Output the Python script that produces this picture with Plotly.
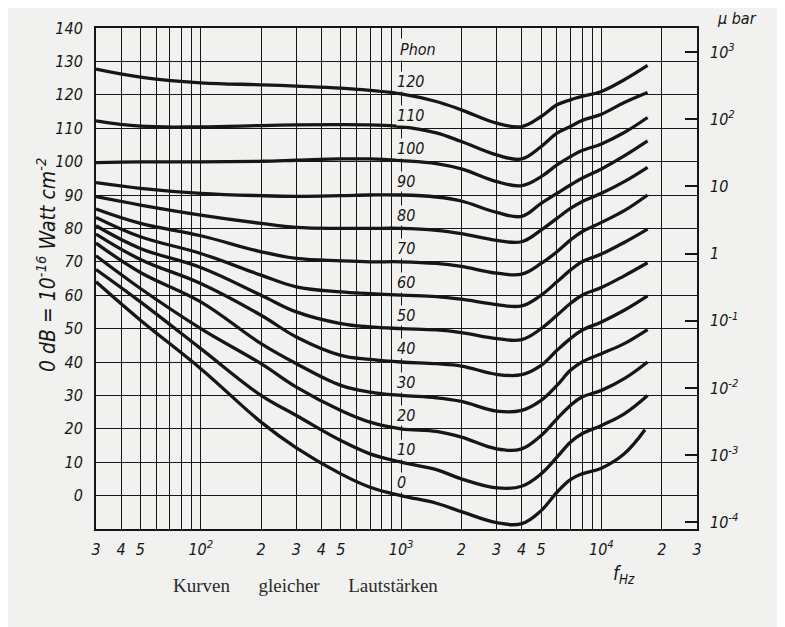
import math
import plotly.graph_objects as go

# ---------------- data ----------------
FREQ = [30, 50, 100, 200, 300, 500, 700, 1000, 1500, 2000, 3000, 4000,
        5000, 6000, 7000, 8000, 10000, 13000]

PHON = [0, 10, 20, 30, 40, 50, 60, 70, 80, 90, 100, 110, 120]
END_FREQ = [16500, 17000, 17000, 17000, 17000, 17000, 17000, 17000, 17000,
            17000, 17000, 17000, 17000]

phon_0 = [64, 52.5, 38, 22, 14.3, 6.5, 2.5, 0, -2.3, -4.8, -8.1, -8.4, -4.5, 1, 4.8, 6.5, 8.2, 12.5, 19.7]
phon_10 = [67.7, 58, 44, 30, 24, 16.5, 12.5, 10, 7.8, 5, 2.3, 2.8, 6.5, 11.5, 16, 18.5, 21, 24.5, 30]
phon_20 = [71.8, 62, 50, 39.5, 32.5, 25.5, 22, 20, 19.2, 17.5, 14, 14, 18, 23, 27, 29.5, 31.5, 35, 40]
phon_30 = [75.6, 66.8, 58, 45.5, 39.5, 33, 31, 30, 29.3, 28.2, 25.3, 25.5, 28.5, 33, 37.5, 40, 42.5, 45.5, 49.7]
phon_40 = [78.3, 70.7, 63.5, 54, 47.5, 42, 40.8, 40, 39.5, 38.8, 36.3, 36.2, 39, 43.5, 47, 49.5, 52, 55.5, 59.8]
phon_50 = [80.8, 74, 68.3, 60, 55, 51.5, 50.5, 50, 49.6, 48.8, 47, 46.7, 50, 54, 57.5, 60, 62.3, 65.8, 69.7]
phon_60 = [83.3, 77.5, 72.5, 66, 62.5, 61, 60.5, 60, 59.6, 58.8, 57.2, 56.8, 60, 64, 67.5, 70, 72.3, 75.8, 79.8]
phon_70 = [85.8, 81.5, 77.8, 73, 71, 70.3, 70, 70, 69.5, 68.6, 66.6, 66.3, 69.5, 73, 76.5, 79, 81.8, 85.3, 90]
phon_80 = [89.5, 87, 84, 81.5, 80.3, 80, 80, 80, 79.4, 78.4, 76.4, 76, 79.5, 83, 86, 88, 90.5, 94, 98.3]
phon_90 = [93.7, 92, 90.5, 89.8, 89.6, 89.8, 90, 90, 89.4, 88.2, 84.8, 83.6, 87.5, 90.5, 93, 95, 97.8, 101.7, 106.2]
phon_100 = [99.7, 99.9, 99.9, 100.1, 100.4, 100.8, 100.8, 100.3, 99.4, 97.8, 94, 92.8, 95.5, 99, 101.5, 103.3, 105.3, 108.7, 113.2]
phon_110 = [112.2, 110.6, 110.4, 110.8, 111, 111.1, 111, 110.5, 108.6, 106, 102, 100.8, 104.5, 108.5, 110.5, 112.3, 114.2, 117.7, 120.7]
phon_120 = [127.7, 125.3, 123.6, 123, 122.6, 122, 121.3, 120.3, 118, 115.5, 111.5, 110.5, 113.5, 117, 118.5, 119.5, 121, 124.5, 128.8]

CURVES = [phon_0, phon_10, phon_20, phon_30, phon_40, phon_50, phon_60,
          phon_70, phon_80, phon_90, phon_100, phon_110, phon_120]

# x grid / tick labels
GRID_F = [30, 40, 50, 60, 70, 80, 90, 100, 200, 300, 400, 500, 600, 700, 800, 900,
          1000, 2000, 3000, 4000, 5000, 6000, 7000, 8000, 9000, 10000, 20000, 30000]
GRID_LABELS = ["3", "4", "5", "", "", "", "", "10<sup>2</sup>", "2", "3", "4", "5", "", "", "", "",
               "10<sup>3</sup>", "2", "3", "4", "5", "", "", "", "", "10<sup>4</sup>", "2", "3"]

DB_TICKS = list(range(-10, 150, 10))
DB_LABELS = [""] + [str(v) for v in range(0, 150, 10)]

UBAR_TICKS = [1e-4, 1e-3, 1e-2, 1e-1, 1, 10, 100, 1000]
UBAR_LABELS = ["10<sup>-4</sup>", "10<sup>-3</sup>", "10<sup>-2</sup>", "10<sup>-1</sup>",
               "1", "10", "10<sup>2</sup>", "10<sup>3</sup>"]

# ---------------- styling ----------------
BG = "#f1f1ef"
INK = "#161616"
FONT = "DejaVu Sans Condensed, Liberation Sans Narrow, DejaVu Sans, sans-serif"
tfont = dict(family=FONT, size=16, color=INK, style="italic")

fig = go.Figure()

for p, vals, fend in zip(PHON, CURVES, END_FREQ):
    fig.add_trace(go.Scatter(
        x=FREQ + [fend], y=vals, mode="lines",
        line=dict(color=INK, width=3.3, shape="spline", smoothing=1.1),
        hoverinfo="skip", showlegend=False))

# invisible trace to anchor the microbar axis
fig.add_trace(go.Scatter(x=[1000], y=[1], yaxis="y2", mode="markers",
                         marker=dict(opacity=0), hoverinfo="skip", showlegend=False))

fig.update_layout(
    width=777, height=619,
    margin=dict(l=88, r=88, t=20, b=98),
    paper_bgcolor=BG, plot_bgcolor=BG,
    showlegend=False,
    xaxis=dict(type="log", range=[math.log10(30), math.log10(30000)],
               tickmode="array", tickvals=GRID_F, ticktext=GRID_LABELS,
               showgrid=True, gridcolor=INK, gridwidth=1.3,
               showline=True, linecolor=INK, linewidth=2, mirror=True,
               ticks="", tickfont=tfont, zeroline=False, ticklabelstandoff=5),
    yaxis=dict(range=[-10, 140], tickmode="array", tickvals=DB_TICKS, ticktext=DB_LABELS,
               showgrid=True, gridcolor=INK, gridwidth=1.3,
               showline=True, linecolor=INK, linewidth=2, mirror=True,
               ticks="", tickfont=tfont, zeroline=False, ticklabelstandoff=8),
    yaxis2=dict(overlaying="y", side="right", type="log", range=[-4.10, 3.36],
                tickmode="array", tickvals=UBAR_TICKS, ticktext=UBAR_LABELS,
                ticks="inside", ticklen=12, tickwidth=1.5, tickcolor=INK,
                showgrid=False, showline=False, zeroline=False,
                tickfont=tfont, ticklabelstandoff=12),
)

ann = []
# phon labels along the 1000 Hz line
for p in PHON:
    ann.append(dict(x=3, y=p + 3.9, xref="x", yref="y", text=str(p), showarrow=False,
                    xanchor="left", yanchor="middle", xshift=-5,
                    font=tfont, bgcolor=BG, borderpad=0))
ann.append(dict(x=3, y=133.5, xref="x", yref="y", text="Phon", showarrow=False,
                xanchor="left", yanchor="middle", xshift=-3, font=tfont, bgcolor=BG))
# y-axis title
ann.append(dict(x=0, y=0.527, xref="paper", yref="paper",
                text="0 dB = 10<sup>-16</sup> Watt cm<sup>-2</sup>", textangle=-90,
                showarrow=False, xanchor="center", yanchor="middle", xshift=-50,
                font=dict(family=FONT, size=21, color=INK, style="italic")))
# microbar unit
ann.append(dict(x=1, y=1, xref="paper", yref="paper", text="\u03bc bar", showarrow=False,
                xanchor="left", yanchor="middle", xshift=18, yshift=10,
                font=dict(family=FONT, size=16, color=INK, style="italic")))
# frequency unit
ann.append(dict(x=0.878, y=0, xref="paper", yref="paper", text="f<sub>Hz</sub>",
                showarrow=False, xanchor="center", yanchor="top", yshift=-31,
                font=dict(family=FONT, size=19, color=INK, style="italic")))
# caption
ann.append(dict(x=0.348, y=0, xref="paper", yref="paper",
                text="Kurven\u2003\u2002gleicher\u2003\u2002Lautst\u00e4rken", showarrow=False,
                xanchor="center", yanchor="top", yshift=-44,
                font=dict(family="Liberation Serif, DejaVu Serif, serif", size=19, color="#2a2a2a")))
fig.update_layout(annotations=ann)

fig.write_html("out.html")
